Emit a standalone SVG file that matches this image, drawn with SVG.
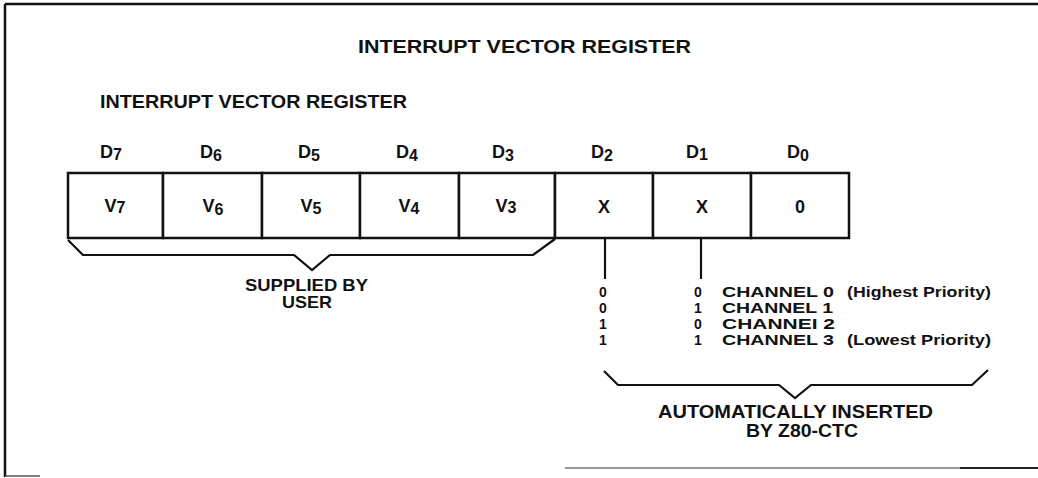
<svg xmlns="http://www.w3.org/2000/svg" width="1038" height="478" viewBox="0 0 1038 478">
<style>
text{font-family:"Liberation Sans",Arial,Helvetica,sans-serif;font-weight:bold;fill:#111}
.t{font-size:19px}
.l{font-size:17px}
.c{text-anchor:middle;font-size:18px}
.d{text-anchor:middle;font-size:18px}
.sub{font-size:16px}
.r{font-size:14px}
.rc{font-size:14px;text-anchor:middle}
.cell{fill:#fff;stroke:#111;stroke-width:2.5}
.ln{fill:none;stroke:#111;stroke-width:2.2;stroke-linejoin:miter}
.bd{fill:none;stroke:#111;stroke-width:2.5}
</style>
<rect width="1038" height="478" fill="#fff"/>
<g id="frame">
<line class="bd" x1="5" y1="4" x2="1038" y2="4"/>
<line class="bd" x1="5" y1="4" x2="5" y2="477"/>
<line x1="5" y1="476" x2="40" y2="476" stroke="#555" stroke-width="1.5"/>
<line x1="565" y1="468" x2="960" y2="468" stroke="#777" stroke-width="1.5"/>
<line x1="960" y1="468" x2="1038" y2="468" stroke="#222" stroke-width="2"/>
</g>
<g id="title">
<text class="t" x="358" y="53" textLength="333" lengthAdjust="spacingAndGlyphs">INTERRUPT VECTOR REGISTER</text>
</g>
<g id="subtitle">
<text class="l" x="100" y="108" textLength="307" lengthAdjust="spacingAndGlyphs" style="font-size:18px">INTERRUPT VECTOR REGISTER</text>
</g>
<g id="bit-labels">
<text class="d" x="111" y="158">D<tspan class="sub" dy="2">7</tspan></text>
<text class="d" x="211" y="158">D<tspan class="sub" dy="3">6</tspan></text>
<text class="d" x="309" y="158">D<tspan class="sub" dy="3">5</tspan></text>
<text class="d" x="407" y="158">D<tspan class="sub" dy="3">4</tspan></text>
<text class="d" x="503" y="158">D<tspan class="sub" dy="3">3</tspan></text>
<text class="d" x="602" y="158">D<tspan class="sub" dy="3">2</tspan></text>
<text class="d" x="697" y="158">D<tspan class="sub" dy="2">1</tspan></text>
<text class="d" x="798" y="158">D<tspan class="sub" dy="3">0</tspan></text>
</g>
<g id="cell-d7"><rect class="cell" x="68" y="173" width="95" height="65"/><text class="c" x="115" y="212">V<tspan class="sub" dy="1">7</tspan></text></g>
<g id="cell-d6"><rect class="cell" x="163" y="173" width="99" height="65"/><text class="c" x="213" y="212">V<tspan class="sub" dy="3">6</tspan></text></g>
<g id="cell-d5"><rect class="cell" x="262" y="173" width="98" height="65"/><text class="c" x="311" y="212">V<tspan class="sub" dy="2">5</tspan></text></g>
<g id="cell-d4"><rect class="cell" x="360" y="173" width="99" height="65"/><text class="c" x="409" y="212">V<tspan class="sub" dy="2">4</tspan></text></g>
<g id="cell-d3"><rect class="cell" x="459" y="173" width="96" height="65"/><text class="c" x="506" y="212">V<tspan class="sub" dy="1">3</tspan></text></g>
<g id="cell-d2"><rect class="cell" x="555" y="173" width="98" height="65"/><text class="c" x="604" y="213">X</text></g>
<g id="cell-d1"><rect class="cell" x="653" y="173" width="98" height="65"/><text class="c" x="702" y="213">X</text></g>
<g id="cell-d0"><rect class="cell" x="751" y="173" width="98" height="65"/><text class="c" x="800" y="213">0</text></g>
<g id="connectors">
<polyline class="ln" points="68,240 83,255 294,255 312,270 330,255 533,255 555,239"/>
<line class="ln" x1="605" y1="238" x2="605" y2="279"/>
<line class="ln" x1="701" y1="238" x2="701" y2="279"/>
<polyline class="ln" points="604,371 618,385 779,385 795,398 811,385 972,385 988,370"/>
</g>
<g id="supplied-label">
<text class="l" x="245" y="291" textLength="123" lengthAdjust="spacingAndGlyphs">SUPPLIED BY</text>
<text class="l" x="282" y="308" textLength="50" lengthAdjust="spacingAndGlyphs">USER</text>
</g>
<g id="channel-table">
<text class="rc" x="603" y="297">0</text>
<text class="rc" x="603" y="313">0</text>
<text class="rc" x="603" y="329">1</text>
<text class="rc" x="603" y="345">1</text>
<text class="rc" x="698" y="297">0</text>
<text class="rc" x="698" y="313">1</text>
<text class="rc" x="698" y="329">0</text>
<text class="rc" x="698" y="345">1</text>
<text class="r" x="722" y="297" textLength="112" lengthAdjust="spacingAndGlyphs">CHANNEL 0</text>
<text class="r" x="722" y="313" textLength="111" lengthAdjust="spacingAndGlyphs">CHANNEL 1</text>
<text class="r" x="722" y="329" textLength="113" lengthAdjust="spacingAndGlyphs">CHANNEI  2</text>
<text class="r" x="722" y="345" textLength="112" lengthAdjust="spacingAndGlyphs">CHANNEL 3</text>
<text class="r" x="847" y="297" textLength="144" lengthAdjust="spacingAndGlyphs">(Highest Priority)</text>
<text class="r" x="847" y="345" textLength="144" lengthAdjust="spacingAndGlyphs">(Lowest Priority)</text>
</g>
<g id="auto-label">
<text class="l" x="658" y="418" textLength="275" lengthAdjust="spacingAndGlyphs" style="font-size:18px">AUTOMATICALLY INSERTED</text>
<text class="l" x="746" y="437" textLength="112" lengthAdjust="spacingAndGlyphs" style="font-size:18px">BY Z80-CTC</text>
</g>
</svg>
